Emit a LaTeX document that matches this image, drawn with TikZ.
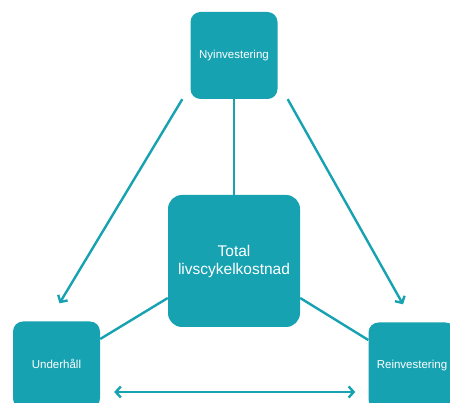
\documentclass[tikz,border=0pt]{standalone}
\usepackage{fontspec}
\setmainfont{Liberation Sans}
\usetikzlibrary{arrows.meta}
\definecolor{teal1}{RGB}{23,162,178}
\tikzset{
  box/.style={fill=teal1, text=white, rounded corners=10pt, minimum width=87pt, minimum height=87pt, inner sep=0pt, font=\fontsize{11.5}{13}\selectfont, align=center},
  bigbox/.style={box, rounded corners=14pt, minimum width=132pt, minimum height=132pt, font=\fontsize{15.5}{18}\selectfont},
  conn/.style={draw=teal1, line width=2.4pt},
  arr/.style={conn, -{Straight Barb[length=5pt,width=11pt,line width=2.4pt]}},
  darr/.style={conn, {Straight Barb[length=5pt,width=11pt,line width=2.4pt]}-{Straight Barb[length=5pt,width=11pt,line width=2.4pt]}}
}
\begin{document}
\begin{tikzpicture}[x=1pt,y=-1pt]
\useasboundingbox (0,0) rectangle (450,403);
\clip (0,0) rectangle (450,403);
\node[box] (ny) at (234,55.5) {\raisebox{-5pt}{Nyinvestering}};
\node[bigbox] (tot) at (234,261) {Total\\livscykelkostnad};
\node[box] (und) at (56.5,365) {\raisebox{2pt}{Underhåll}};
\node[box] (rein) at (412,366) {\raisebox{-3pt}{Reinvestering}};
\draw[conn] (ny.south) -- (tot.north);
\draw[arr] ([xshift=-8pt]ny.south west) -- ([xshift=3pt,yshift=18pt]und.north);
\draw[arr] ([xshift=10pt]ny.south east) -- ([xshift=-9pt,yshift=18pt]rein.north);
\draw[conn] ([yshift=-37pt]tot.west) -- ([yshift=26pt]und.east);
\draw[conn] ([yshift=-37pt]tot.east) -- ([yshift=26pt]rein.west);
\draw[darr] ([xshift=14pt,yshift=-27pt]und.east) -- ([xshift=-13pt,yshift=-26pt]rein.west);
\end{tikzpicture}
\end{document}
